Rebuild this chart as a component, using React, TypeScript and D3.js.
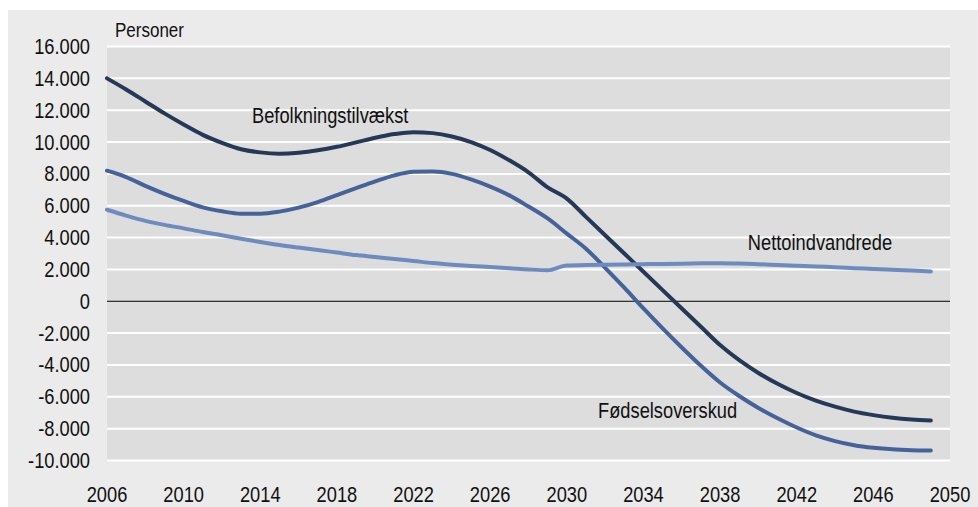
import React from "react";
import * as d3 from "d3";

const years = [
  2006, 2007, 2008, 2009, 2010, 2011, 2012, 2013, 2014, 2015, 2016, 2017, 2018, 2019, 2020,
  2021, 2022, 2023, 2024, 2025, 2026, 2027, 2028, 2029, 2030, 2031, 2032, 2033, 2034, 2035,
  2036, 2037, 2038, 2039, 2040, 2041, 2042, 2043, 2044, 2045, 2046, 2047, 2048, 2049,
];

const befolkningstilvaekst = [
  14000, 13300, 12550, 11800, 11100, 10450, 9950, 9550, 9350, 9270, 9330, 9480, 9700, 9980, 10270,
  10500, 10620, 10560, 10350, 10000, 9500, 8850, 8100, 7150, 6450, 5300, 4150, 3000, 1850, 700,
  -450, -1600, -2750, -3700, -4500, -5180, -5760, -6240, -6620, -6930, -7150, -7320, -7430, -7490,
];

const foedselsoverskud = [
  8200, 7800, 7250, 6750, 6300, 5900, 5650, 5500, 5500, 5630, 5880, 6230, 6660, 7100, 7530,
  7910, 8130, 8150, 8000, 7650, 7200, 6650, 5950, 5200, 4250, 3300, 2100, 850, -450, -1700,
  -2900, -4050, -5100, -5950, -6700, -7350, -7930, -8420, -8780, -9040, -9200, -9300, -9350, -9370,
];

const nettoindvandrede = [
  5750, 5380, 5050, 4800, 4580, 4350, 4150, 3930, 3720, 3530, 3370, 3220, 3060, 2900, 2780,
  2650, 2530, 2400, 2300, 2220, 2150, 2080, 2000, 1950, 2250, 2270, 2290, 2310, 2330, 2340,
  2360, 2380, 2390, 2370, 2330, 2280, 2230, 2180, 2140, 2080, 2030, 1980, 1930, 1870,
];

const yTicks = [16000, 14000, 12000, 10000, 8000, 6000, 4000, 2000, 0, -2000, -4000, -6000, -8000, -10000];
const xTicks = [2006, 2010, 2014, 2018, 2022, 2026, 2030, 2034, 2038, 2042, 2046, 2050];

const seriesNames = ["Befolkningstilvækst", "Fødselsoverskud", "Nettoindvandrede"];
const unitLabel = "Personer";

const W = 978;
const H = 507;
const FONT = "'Liberation Sans', Arial, sans-serif";
const SX = 0.85;

const locale = d3.formatLocale({
  decimal: ",",
  thousands: ".",
  grouping: [3],
  currency: ["", ""],
  minus: "-",
});
const fmt = locale.format(",d");

function T({ x, y, anchor = "start", size = 21.5, children }: any) {
  return (
    <text
      transform={`translate(${x},${y}) scale(${SX},1)`}
      textAnchor={anchor}
      fontSize={size}
      fill="#111"
    >
      {children}
    </text>
  );
}

export default function App() {
  const plot = { left: 107, right: 950, top: 46.5, bottom: 460.5 };
  const x = d3.scaleLinear().domain([2006, 2050]).range([plot.left, plot.right]);
  const y = d3.scaleLinear().domain([-10000, 16000]).range([plot.bottom, plot.top]);

  const line = d3
    .line<number>()
    .x((_, i) => x(years[i]))
    .y((d) => y(d))
    .curve(d3.curveMonotoneX);

  const series = [
    { name: seriesNames[0], values: befolkningstilvaekst, color: "#263858" },
    { name: seriesNames[1], values: foedselsoverskud, color: "#45639a" },
    { name: seriesNames[2], values: nettoindvandrede, color: "#6d8bbe" },
  ];

  // annotation anchors in data space (year, value)
  const labels = [
    { text: seriesNames[0], year: 2013.57, value: 11200 },
    { text: seriesNames[2], year: 2039.45, value: 3190 },
    { text: seriesNames[1], year: 2031.63, value: -7340 },
  ];

  return (
    <svg
      width={W}
      height={H}
      style={{ position: "absolute", left: 0, top: 0, display: "block" }}
      fontFamily={FONT}
    >
      <rect x={8} y={10} width={W - 8} height={H - 10} fill="#ebebeb" />
      <rect
        x={plot.left}
        y={plot.top}
        width={plot.right - plot.left}
        height={plot.bottom - plot.top}
        fill="#dddddd"
      />
      {yTicks.map((t) =>
        t === 0 ? null : (
          <line
            key={"g" + t}
            x1={plot.left}
            x2={plot.right}
            y1={y(t)}
            y2={y(t)}
            stroke="#ffffff"
            strokeWidth={2}
          />
        )
      )}
      <line x1={plot.left} x2={plot.right} y1={y(0)} y2={y(0)} stroke="#000" strokeWidth={1} />
      {series.map((s) => (
        <path
          key={s.name}
          d={line(s.values) || ""}
          fill="none"
          stroke={s.color}
          strokeWidth={4}
          strokeLinecap="round"
          strokeLinejoin="round"
        />
      ))}
      {yTicks.map((t) => (
        <T key={"yl" + t} x={90} y={y(t) + 7.5} anchor="end">
          {fmt(t)}
        </T>
      ))}
      {xTicks.map((t) => (
        <T key={"xl" + t} x={x(t)} y={502} anchor="middle">
          {String(t)}
        </T>
      ))}
      <T x={plot.left + 8} y={37} size={20}>
        {unitLabel}
      </T>
      {labels.map((l) => (
        <T key={l.text} x={x(l.year)} y={y(l.value)}>
          {l.text}
        </T>
      ))}
    </svg>
  );
}
